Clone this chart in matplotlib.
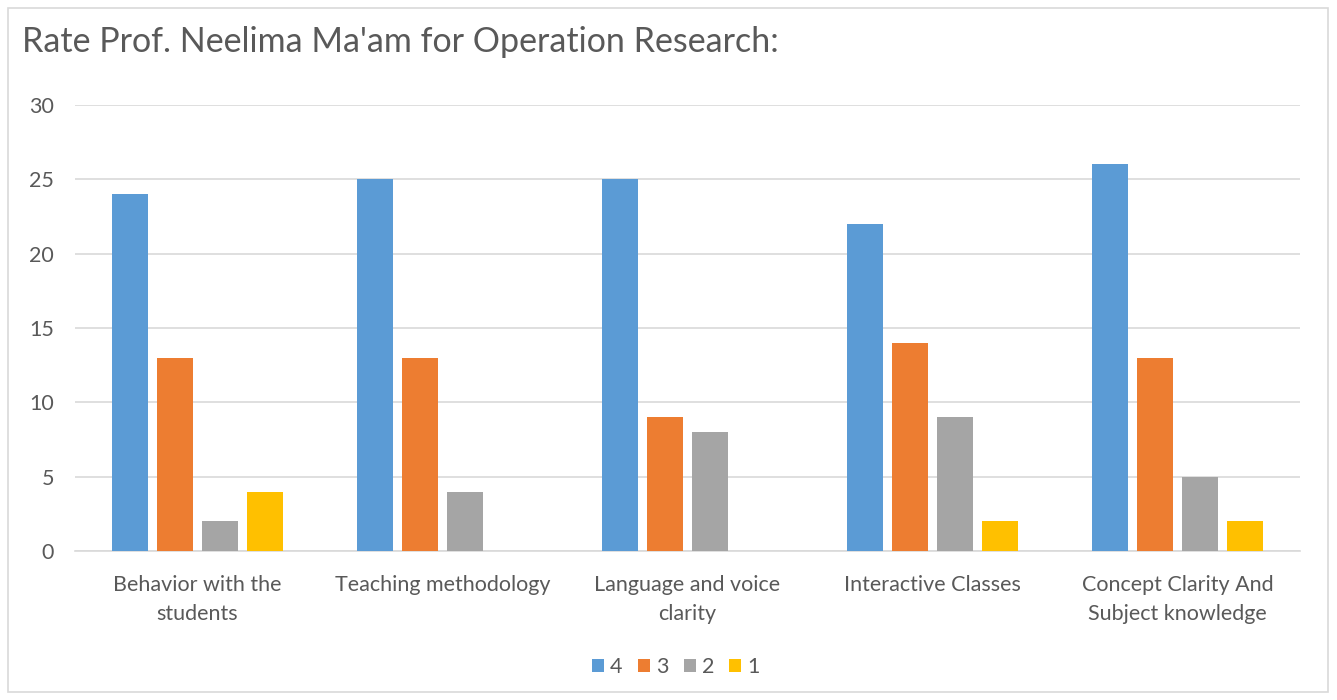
import matplotlib
matplotlib.use("Agg")
import matplotlib.pyplot as plt
import numpy as np
from matplotlib.patches import Rectangle

categories = ["Behavior with the\nstudents", "Teaching methodology", "Language and voice\nclarity",
              "Interactive Classes", "Concept Clarity And\nSubject knowledge"]
series_names = ["4", "3", "2", "1"]
s4 = [24, 25, 25, 22, 26]
s3 = [13, 13, 9, 14, 13]
s2 = [2, 4, 8, 9, 5]
s1 = [4, 0, 0, 2, 2]
colors = ["#5B9BD5", "#ED7D31", "#A5A5A5", "#FFC000"]
yticks = [0, 5, 10, 15, 20, 25, 30]

plt.rcParams['font.family'] = ['Lato', 'DejaVu Sans']
txt = "#595959"

fig = plt.figure(figsize=(13.37, 7.0), dpi=100)
ax = fig.add_axes([75/1337, 1-551/700, (1300-75)/1337, (551-105)/700])

x = np.arange(len(categories))
width = 36/245
pitch = 45/245
for i, (vals, c) in enumerate(zip([s4, s3, s2, s1], colors)):
    ax.bar(x + (i-1.5)*pitch, vals, width, color=c, label=series_names[i], zorder=3)

ax.set_xlim(-0.5, len(categories)-0.5)
ax.set_ylim(0, 30)
ax.set_yticks(yticks)
ax.grid(axis='y', color="#D9D9D9", linewidth=1.2, zorder=0)
for s in ["top", "right", "left"]:
    ax.spines[s].set_visible(False)
ax.spines["bottom"].set_color("#D9D9D9")
ax.spines["bottom"].set_linewidth(1.2)
ax.tick_params(axis='both', length=0, labelsize=15.5, colors=txt)
ax.tick_params(axis='y', pad=15)
ax.tick_params(axis='x', pad=17)
ax.set_xticks(x)
ax.set_xticklabels(categories, linespacing=1.6)

fig.text(22/1337, 1-42/700, "Rate Prof. Neelima Ma'am for Operation Research:", fontsize=24.5,
         color=txt, va='center', ha='left')

leg = fig.legend(loc='center', bbox_to_anchor=(676/1337, 1-667/700), ncol=4, frameon=False,
                 fontsize=15.5, handlelength=0.55, handleheight=0.55, handletextpad=0.3,
                 columnspacing=0.7, labelcolor=txt)

fig.patches.append(Rectangle((8/1337, 8/700), 1320/1337, 684/700, transform=fig.transFigure,
                             fill=False, edgecolor="#D9D9D9", linewidth=1.2))

fig.savefig("out.png", dpi=100, facecolor="white")
